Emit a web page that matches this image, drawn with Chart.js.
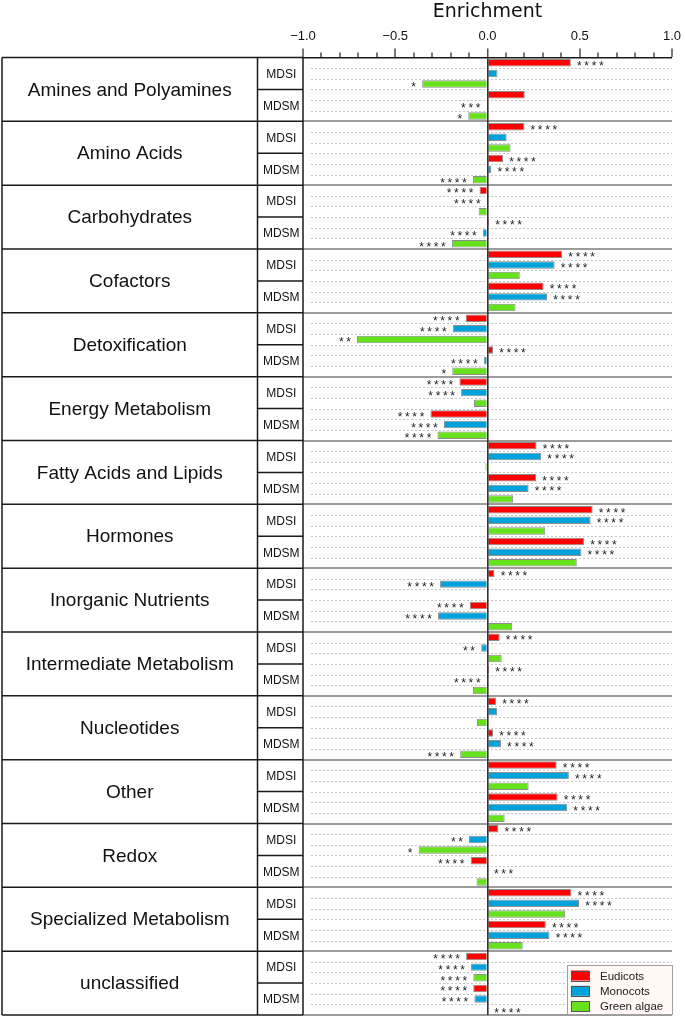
<!DOCTYPE html>
<html>
<head>
<meta charset="utf-8">
<script src="https://cdn.jsdelivr.net/npm/chart.js@4.4.1/dist/chart.umd.min.js"></script>
<style>
  html, body { margin: 0; padding: 0; background: #fff; }
  #wrap { width: 685px; height: 1016px; }
</style>
</head>
<body>
<div id="wrap"><canvas id="chart" width="685" height="1016"></canvas></div>
<script>
// ---- data ----
const categories = [
  'Amines and Polyamines', 'Amino Acids', 'Carbohydrates', 'Cofactors', 'Detoxification',
  'Energy Metabolism', 'Fatty Acids and Lipids', 'Hormones', 'Inorganic Nutrients',
  'Intermediate Metabolism', 'Nucleotides', 'Other', 'Redox', 'Specialized Metabolism', 'unclassified'
];
const subgroups = ['MDSI', 'MDSM'];
const seriesNames = ['Eudicots', 'Monocots', 'Green algae'];

// one value per (category, subgroup): MDSI, MDSM, MDSI, MDSM, ...
const eudicots = [
  0.452, 0.202,  0.200, 0.084,  -0.043, 0.009,  0.405, 0.304,  -0.118, 0.030,
  -0.152, -0.309,  0.266, 0.263,  0.570, 0.523,  0.038, -0.096,  0.066, 0.009,
  0.046, 0.030,  0.375, 0.380,  0.059, -0.091,  0.455, 0.316,  -0.116, -0.077
];
const monocots = [
  0.054, -0.005,  0.104, 0.021,  -0.004, -0.025,  0.364, 0.323,  -0.188, -0.020,
  -0.143, -0.236,  0.291, 0.223,  0.559, 0.509,  -0.257, -0.268,  -0.034, -0.004,
  0.052, 0.073,  0.441, 0.432,  -0.100, 0.002,  0.496, 0.336,  -0.089, -0.071
];
const greenAlgae = [
  -0.354, -0.104,  0.125, -0.079,  -0.048, -0.193,  0.175, 0.152,  -0.707, -0.191,
  -0.073, -0.271,  -0.011, 0.138,  0.313, 0.484,  null, 0.134,  0.077, -0.079,
  -0.057, -0.148,  0.223, 0.093,  -0.373, -0.059,  0.421, 0.191,  -0.077, 0.003
];

// number of significance asterisks next to each bar
const eudicotStars = [4,0, 4,4, 4,4, 4,4, 4,4, 4,4, 4,4, 4,4, 4,4, 4,4, 4,4, 4,4, 4,4, 4,4, 4,4];
const monocotStars = [0,3, 0,4, 4,4, 4,4, 4,4, 4,4, 4,4, 4,4, 4,4, 2,4, 0,4, 4,4, 2,3, 4,4, 4,4];
const greenStars   = [1,1, 0,4, 0,4, 0,0, 2,1, 0,4, 0,0, 0,0, 0,0, 0,0, 0,4, 0,0, 1,0, 0,0, 4,4];

const seriesColors = ['#ff0000', '#00a2dc', '#66e21c'];
const xMin = -1, xMax = 1, xStep = 0.1;

const rowLabels = categories.flatMap(c => subgroups.map(s => c + ' / ' + s));
const starSets = [eudicotStars, monocotStars, greenStars];

const SANS = '"Liberation Sans", Arial, sans-serif';
const isMajor = v => Math.abs(v * 2 - Math.round(v * 2)) < 1e-6;

// ---- table, row lines, stars, legend ----
const tablePlugin = {
  id: 'tableGrid',
  beforeDatasetsDraw(chart) {
    const { ctx, chartArea: a } = chart;
    const y = chart.scales.y;
    const step = y.getPixelForValue(1) - y.getPixelForValue(0);
    ctx.save();
    ctx.lineWidth = 1;
    ctx.strokeStyle = '#c6c6c6';
    ctx.setLineDash([2, 2]);
    rowLabels.forEach((_, i) => {
      const top = y.getPixelForValue(i) - step / 2;
      const lines = [top + step / 3, top + 2 * step / 3];
      if (i % 2 === 1) lines.push(top);
      lines.forEach(py => {
        const yy = Math.round(py) + 0.5;
        ctx.beginPath(); ctx.moveTo(a.left + 8, yy); ctx.lineTo(a.right, yy); ctx.stroke();
      });
    });
    ctx.setLineDash([]);
    ctx.strokeStyle = '#9c9c9c';
    ctx.lineWidth = 2;
    categories.forEach((_, c) => {
      const yy = Math.round(y.getPixelForValue(c * 2 + 1) + step / 2);
      ctx.beginPath(); ctx.moveTo(a.left, yy); ctx.lineTo(a.right, yy); ctx.stroke();
    });
    ctx.restore();
  },
  afterDatasetsDraw(chart) {
    const { ctx } = chart;
    ctx.save();
    ctx.fillStyle = '#222';
    ctx.font = '12px ' + SANS;
    ctx.textAlign = 'center';
    ctx.textBaseline = 'alphabetic';
    chart.data.datasets.forEach((ds, d) => {
      const meta = chart.getDatasetMeta(d);
      meta.data.forEach((bar, i) => {
        const n = starSets[d][i];
        if (!n || ds.data[i] === null) return;
        const dir = ds.data[i] >= 0 ? 1 : -1;
        for (let k = 0; k < n; k++) {
          ctx.fillText('*', bar.x + dir * (8.5 + k * 7.3), bar.y + 7);
        }
      });
    });
    ctx.restore();
  },
  afterDraw(chart) {
    const { ctx, chartArea: a } = chart;
    const y = chart.scales.y;
    const step = y.getPixelForValue(1) - y.getPixelForValue(0);
    const x0 = 2, x1 = 257.5, x2 = a.left;
    ctx.save();
    ctx.strokeStyle = '#1a1a1a';
    ctx.lineWidth = 1.5;
    const hline = (xa, xb, yy) => { ctx.beginPath(); ctx.moveTo(xa, yy); ctx.lineTo(xb, yy); ctx.stroke(); };
    const vline = (xx, ya, yb) => { ctx.beginPath(); ctx.moveTo(xx, ya); ctx.lineTo(xx, yb); ctx.stroke(); };
    hline(x0, x2, a.top);
    categories.forEach((_, c) => {
      const mid = y.getPixelForValue(c * 2 + 1) - step / 2;
      const bottom = y.getPixelForValue(c * 2 + 1) + step / 2;
      hline(x0, x2, bottom);
      hline(x1, x2, mid);
    });
    vline(x0, a.top, a.bottom);
    vline(x1, a.top, a.bottom);
    vline(x2, a.top, a.bottom);

    ctx.fillStyle = '#111';
    ctx.textAlign = 'center';
    ctx.textBaseline = 'middle';
    categories.forEach((cat, c) => {
      const cy = (y.getPixelForValue(c * 2) + y.getPixelForValue(c * 2 + 1)) / 2;
      ctx.font = '19px ' + SANS;
      ctx.fillText(cat, (x0 + x1) / 2, cy + 1);
      ctx.font = '12px ' + SANS;
      subgroups.forEach((s, k) => {
        ctx.fillText(s, (x1 + x2) / 2 + 1, y.getPixelForValue(c * 2 + k) + 1);
      });
    });

    // legend box in the lower right corner of the plot
    const w = 105, h = 49;
    const lx = a.right - w, ly = a.bottom - h - 1;
    ctx.fillStyle = '#fff8f4';
    ctx.fillRect(lx, ly, w, h);
    ctx.strokeStyle = '#a0a0a0';
    ctx.lineWidth = 1;
    ctx.strokeRect(Math.round(lx) + 0.5, Math.round(ly) + 0.5, w, h);
    ctx.font = '11.5px ' + SANS;
    ctx.textAlign = 'left';
    chart.data.datasets.forEach((ds, d) => {
      const ry = ly + 10.5 + d * 15.3;
      ctx.fillStyle = ds.backgroundColor;
      ctx.fillRect(lx + 4, ry - 5, 18, 10);
      ctx.strokeStyle = '#555';
      ctx.strokeRect(Math.round(lx + 4) + 0.5, Math.round(ry - 5) + 0.5, 18, 10);
      ctx.fillStyle = '#222';
      ctx.fillText(ds.label, lx + 33, ry + 1);
    });
    ctx.restore();
  }
};

const datasets = [eudicots, monocots, greenAlgae].map((vals, d) => ({
  label: seriesNames[d],
  data: vals,
  backgroundColor: seriesColors[d],
  borderColor: '#8c8c8c',
  borderWidth: 1,
  categoryPercentage: 1,
  barPercentage: 0.7
}));

new Chart(document.getElementById('chart'), {
  type: 'bar',
  data: { labels: rowLabels, datasets },
  options: {
    indexAxis: 'y',
    responsive: false,
    animation: false,
    layout: { padding: { left: 303, right: 10, top: 0, bottom: 1 } },
    plugins: { legend: { display: false }, tooltip: { enabled: false } },
    scales: {
      x: {
        type: 'linear',
        position: 'top',
        min: xMin,
        max: xMax,
        afterFit: s => { s.height = 57.5; },
        title: {
          display: true,
          text: 'Enrichment',
          color: '#111',
          font: { family: '"DejaVu Sans", sans-serif', size: 19, lineHeight: 1 },
          padding: { top: 3, bottom: 0 }
        },
        ticks: {
          stepSize: xStep,
          autoSkip: false,
          maxRotation: 0,
          padding: 4,
          color: '#111',
          font: { family: SANS, size: 13 },
          callback: v => {
            if (!isMajor(v)) return '';
            const s = Math.abs(v).toFixed(1);
            return v < -1e-9 ? '\u2212' + s : s;
          }
        },
        grid: {
          z: 1,
          drawTicks: true,
          tickLength: 9,
          tickWidth: 1.2,
          tickColor: '#222',
          tickBorderDash: c => isMajor(c.tick.value) ? [] : [0, 4, 6, 20],
          color: c => Math.abs(c.tick.value) < 1e-9 ? '#333' : 'rgba(0,0,0,0)',
          lineWidth: c => Math.abs(c.tick.value) < 1e-9 ? 1.6 : 0
        },
        border: { display: true, color: '#1a1a1a', width: 1.5, z: 2 }
      },
      y: {
        type: 'category',
        display: false,
        offset: true
      }
    }
  },
  plugins: [tablePlugin]
});
</script>
</body>
</html>
